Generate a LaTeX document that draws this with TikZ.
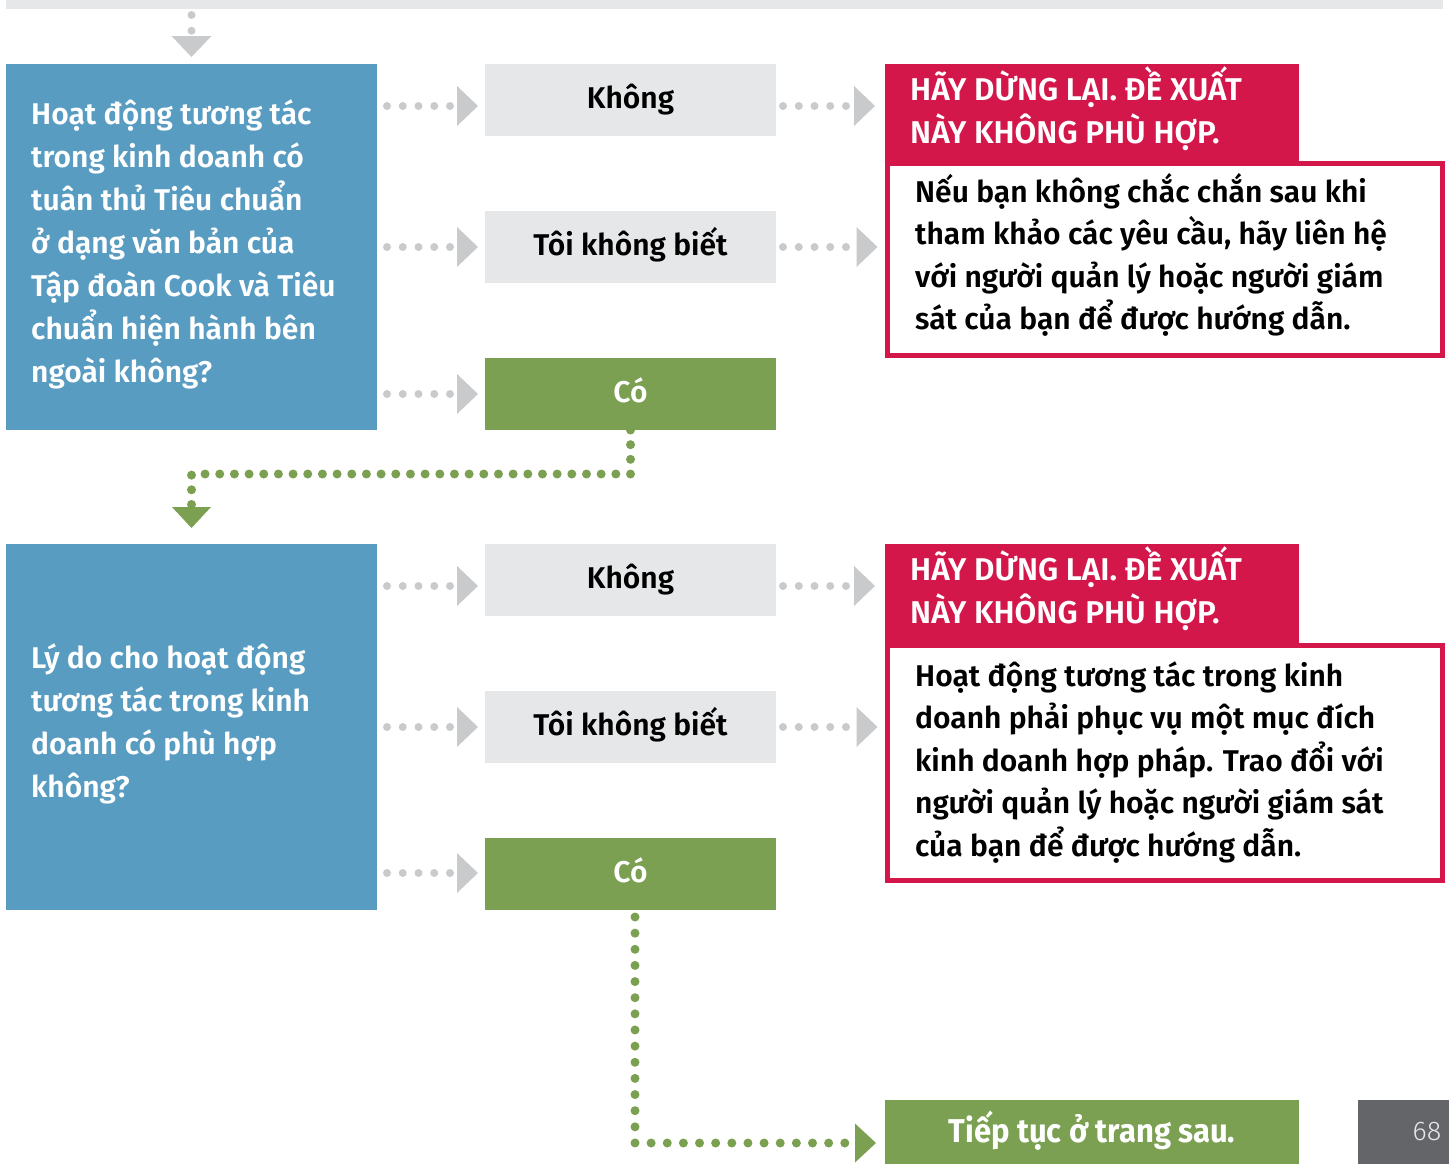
\documentclass[tikz,border=0pt]{standalone}
\usepackage{fontspec}
\setmainfont{Fira Sans}
\newfontfamily\semib{Fira Sans SemiBold}
\newfontfamily\condb{Fira Sans}[FakeStretch=0.94]
\newfontfamily\lightf{Fira Sans Light}
\usetikzlibrary{arrows.meta}
\definecolor{blueq}{HTML}{589CC1}
\definecolor{boxg}{HTML}{E6E7E8}
\definecolor{greenc}{HTML}{7CA052}
\definecolor{redc}{HTML}{D3174A}
\definecolor{arrg}{HTML}{C9CACC}
\definecolor{pageg}{HTML}{646569}
\begin{document}
\begin{tikzpicture}[x=1pt,y=-1pt,
  box/.style={inner sep=0pt,outer sep=0pt,anchor=north west},
  qbox/.style={box,fill=blueq,minimum width=371pt,minimum height=366pt},
  abox/.style={box,fill=boxg,minimum width=291pt,minimum height=72pt,
    font=\semib\fontsize{30}{36}\selectfont,text height=19pt,text depth=3pt},
  ybox/.style={abox,fill=greenc,text=white},
  hbox/.style={box,fill=redc,minimum width=414pt},
  rbox/.style={box,draw=redc,line width=5pt,fill=white,minimum width=555pt},
  qtext/.style={anchor=base west,inner sep=0pt,align=left,text=white,
    font=\semib\fontsize{30}{43}\selectfont},
  htext/.style={anchor=base west,inner sep=0pt,align=left,text=white,
    font=\semib\fontsize{31.5}{43}\selectfont},
  btext/.style={anchor=base west,inner sep=0pt,align=left,text=black,
    font=\semib\fontsize{30}{42.5}\selectfont},
  grayarr/.style={draw=arrg,line width=8pt,line cap=round,
    dash pattern=on 0pt off 15.75pt,
    -{Triangle[length=21pt,width=40pt,line width=0pt]}},
  greenarr/.style={draw=greenc,line width=9pt,line cap=round,
    -{Triangle[length=21pt,width=39pt,line width=0pt]}}
]
\useasboundingbox (0,0) rectangle (1449,1163);
\clip (0,0) rectangle (1449,1163);

% row coordinates
\coordinate (r1) at (0,106);
\coordinate (r2) at (0,247);
\coordinate (r3) at (0,394);
\coordinate (r4) at (0,586);
\coordinate (r5) at (0,727);
\coordinate (r6) at (0,873);
\coordinate (j1) at (0,474);

% top bar
\node[box,fill=boxg,minimum width=1437pt,minimum height=9pt] (topbar) at (6,0) {};

% ---------- section 1 ----------
\node[qbox] (q1) at (6,64) {};
\node[qtext] (q1t) at (31,382) {Hoạt động tương tác\\trong kinh doanh có\\tuân thủ Tiêu chuẩn\\ở dạng văn bản của\\Tập đoàn Cook và Tiêu\\chuẩn hiện hành bên\\ngoài không?};

\node[abox] (n1) at (485,64) {Không};
\node[abox] (n2) at (485,211) {Tôi không biết};
\node[ybox] (c1) at (485,358) {Có};

\node[rbox,minimum height=192pt] (b1) at (887.5,163.5) {};
\node[hbox,minimum height=97pt] (h1) at (885,64) {};
\node[htext] (h1t) at (910,143) {HÃY DỪNG LẠI. ĐỀ XUẤT\\NÀY KHÔNG PHÙ HỢP.};
\node[btext] (b1t) at (915,329.5) {Nếu bạn không chắc chắn sau khi\\tham khảo các yêu cầu, hãy liên hệ\\với người quản lý hoặc người giám\\sát của bạn để được hướng dẫn.};

% ---------- section 2 ----------
\node[qbox] (q2) at (6,544) {};
\node[qtext] (q2t) at (31,797) {Lý do cho hoạt động\\tương tác trong kinh\\doanh có phù hợp\\không?};

\node[abox] (n4) at (485,544) {Không};
\node[abox] (n5) at (485,691) {Tôi không biết};
\node[ybox] (c2) at (485,838) {Có};

\node[rbox,minimum height=235pt] (b2) at (887.5,645.5) {};
\node[hbox,minimum height=99pt] (h2) at (885,544) {};
\node[htext] (h2t) at (910,623) {HÃY DỪNG LẠI. ĐỀ XUẤT\\NÀY KHÔNG PHÙ HỢP.};
\node[btext] (b2t) at (915,856) {Hoạt động tương tác trong kinh\\doanh phải phục vụ một mục đích\\kinh doanh hợp pháp. Trao đổi với\\người quản lý hoặc người giám sát\\của bạn để được hướng dẫn.};

% bottom
\node[box,fill=greenc,minimum width=414pt,minimum height=86pt] (nx) at (885,1100) {};
\node[anchor=base,inner sep=0pt,text=white,font=\condb\bfseries\fontsize{33}{36}\selectfont] (nxt) at (1092,1142) {Tiếp tục ở trang sau.};
\node[box,fill=pageg,minimum width=91pt,minimum height=86pt] (pg) at (1358,1100) {};
\node[anchor=base,inner sep=0pt,text=boxg,font=\lightf\fontsize{27}{30}\selectfont] (pgt) at (1427,1140) {68};

% ---------- connectors ----------
\draw[grayarr,shorten <=6pt,shorten >=7pt] (topbar.south -| q1.north) -- (q1.north);

\draw[grayarr,shorten <=10pt,shorten >=7pt] (q1.east |- r1) -- (n1.west |- r1);
\draw[grayarr,shorten <=10pt,shorten >=7pt] (q1.east |- r2) -- (n2.west |- r2);
\draw[grayarr,shorten <=10pt,shorten >=7pt] (q1.east |- r3) -- (c1.west |- r3);
\draw[grayarr,shorten <=7pt,shorten >=10pt] (n1.east |- r1) -- (h1.west |- r1);
\draw[grayarr,shorten <=7pt,shorten >=10pt] (n2.east |- r2) -- (b1.west |- r2);

\draw[greenarr,dash pattern=on 0pt off 14.67pt,shorten >=16pt] (c1.south) -- (c1.south |- j1) -| (q2.north);

\draw[grayarr,shorten <=10pt,shorten >=7pt] (q2.east |- r4) -- (n4.west |- r4);
\draw[grayarr,shorten <=10pt,shorten >=7pt] (q2.east |- r5) -- (n5.west |- r5);
\draw[grayarr,shorten <=10pt,shorten >=7pt] (q2.east |- r6) -- (c2.west |- r6);
\draw[grayarr,shorten <=7pt,shorten >=10pt] (n4.east |- r4) -- (h2.west |- r4);
\draw[grayarr,shorten <=7pt,shorten >=10pt] (n5.east |- r5) -- (b2.west |- r5);

\draw[greenarr,dash pattern=on 0pt off 16.14pt,shorten <=7pt,shorten >=9pt] ([xshift=4.5pt]c2.south) |- (nx.west);
\end{tikzpicture}
\end{document}
